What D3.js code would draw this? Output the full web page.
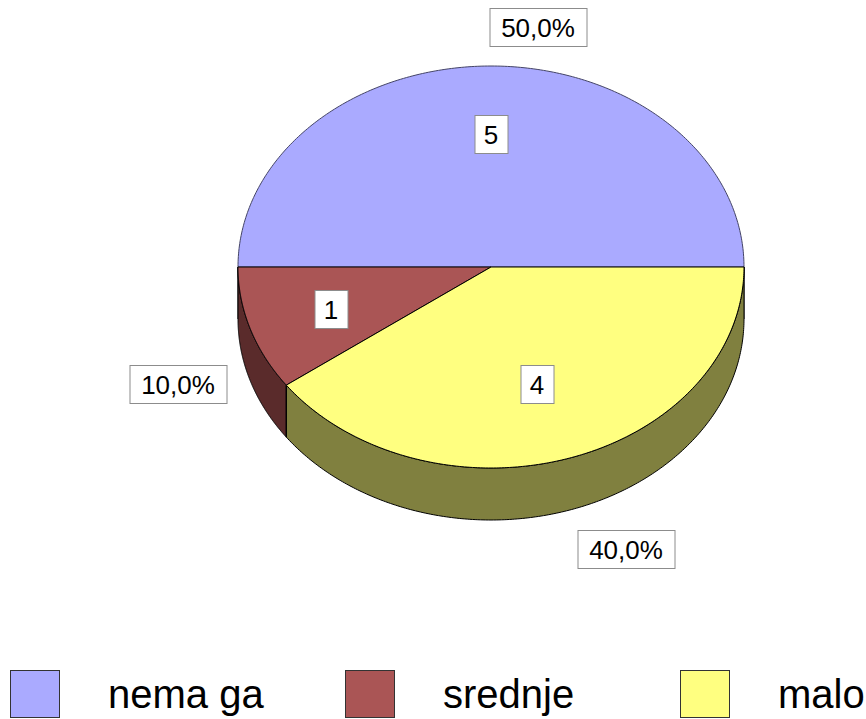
<!DOCTYPE html>
<html><head><meta charset="utf-8">
<script src="https://cdn.jsdelivr.net/npm/d3@7"></script>
<style>body{margin:0;background:#fff}svg{display:block}</style>
</head><body>
<script>
const categories = ["nema ga", "srednje", "malo"];
const values = [5, 1, 4];
const percentLabels = ["50,0%", "10,0%", "40,0%"];
const topColors = ["#AAAAFF", "#AA5555", "#FFFF80"];
const sideColors = ["#55557F", "#5A2B2B", "#80803F"];

const W = 866, H = 719;
const cx = 491, cy = 267, rx = 253, ry = 201, depth = 52;
const svg = d3.select("body").append("svg").attr("width", W).attr("height", H);
const font = "'Liberation Sans', Arial, sans-serif";

const pie = d3.pie().sort(null).startAngle(Math.PI / 2).endAngle(Math.PI / 2 - 2 * Math.PI);
const arcs = pie(values);

const px = (t, s = 1) => cx + rx * s * Math.sin(t);
const py = (t, s = 1) => cy - ry * s * Math.cos(t);

function samples(a0, a1, n = 120) {
  return d3.range(n + 1).map(i => a0 + (a1 - a0) * i / n);
}

// side walls
const gSide = svg.append("g");
arcs.forEach((a, i) => {
  const pts = samples(a.startAngle, a.endAngle, 240).filter(t => Math.cos(t) <= 1e-9);
  if (pts.length < 2) return;
  const top = pts.map(t => [px(t), py(t)]);
  const bot = pts.slice().reverse().map(t => [px(t), py(t) + depth]);
  gSide.append("path")
    .attr("d", d3.line()(top.concat(bot)) + "Z")
    .attr("fill", sideColors[i]).attr("stroke", "#000").attr("stroke-width", 1);
});
// radial edges visible on the wall
arcs.forEach((a) => {
  const t = a.startAngle;
  if (Math.cos(t) < -1e-6) {
    gSide.append("line").attr("x1", px(t)).attr("y1", py(t)).attr("x2", px(t)).attr("y2", py(t) + depth)
      .attr("stroke", "#000").attr("stroke-width", 1);
  }
});

// top slices
const gTop = svg.append("g");
arcs.forEach((a, i) => {
  const pts = samples(a.startAngle, a.endAngle, 240).map(t => [px(t), py(t)]);
  gTop.append("path")
    .attr("d", d3.line()([[cx, cy]].concat(pts)) + "Z")
    .attr("fill", topColors[i]).attr("stroke", i === 0 ? "#444466" : "#000").attr("stroke-width", 1)
    .attr("stroke-linejoin", "round");
});

// labels
function boxLabel(x, y, text, w, h) {
  const g = svg.append("g");
  g.append("rect").attr("x", x - w / 2 + 0.5).attr("y", y - h / 2 + 0.5).attr("width", w).attr("height", h)
    .attr("fill", "#fff").attr("stroke", "#8c8c8c").attr("stroke-width", 1);
  g.append("text").attr("x", x).attr("y", y + 9.5).attr("text-anchor", "middle")
    .attr("font-family", font).attr("font-size", 26).attr("fill", "#000").text(text);
}
const valuePos = [[491, 134], [331, 309], [537, 384]];
const pctPos = [[538, 27], [178, 384], [626, 549]];
arcs.forEach((a, i) => {
  boxLabel(valuePos[i][0], valuePos[i][1], String(values[i]), 33, 38);
  boxLabel(pctPos[i][0], pctPos[i][1], percentLabels[i], 97, 38);
});

// legend
const legendX = [10, 345, 680];
categories.forEach((c, i) => {
  svg.append("rect").attr("x", legendX[i] + 0.5).attr("y", 670.5).attr("width", 49).attr("height", 47)
    .attr("fill", topColors[i]).attr("stroke", "#333").attr("stroke-width", 1);
  svg.append("text").attr("x", legendX[i] + 98).attr("y", 708)
    .attr("font-family", font).attr("font-size", 40).attr("fill", "#000").text(c);
});
</script>
</body></html>
